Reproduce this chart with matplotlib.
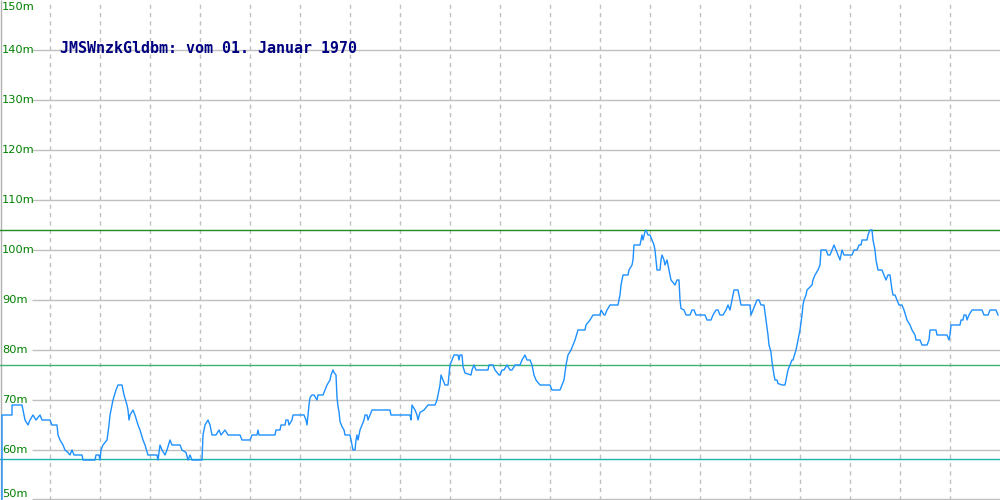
import matplotlib
matplotlib.use("Agg")
import matplotlib.pyplot as plt

# series (x = day index, value in m-units)
days = [2, 2, 12, 12, 22, 25, 28, 30, 33, 36, 40, 42, 50, 52, 57, 58, 60, 63, 65, 68,
        70, 72, 74, 78, 82, 83, 95, 96, 99, 100, 101, 103, 107, 109, 110, 113, 116, 118, 122, 124,
        127, 128, 129, 130, 133, 135, 138, 140, 143, 145, 148, 150, 157, 158, 160, 162, 165, 167, 170, 172,
        180, 182, 186, 188, 190, 192, 202, 203, 205, 208, 210, 212, 216, 219, 221, 225, 228, 240, 242, 250,
        252, 257, 258, 259, 275, 276, 280, 281, 285, 286, 288, 289, 292, 293, 304, 306, 307, 308, 309, 310,
        312, 314, 317, 318, 323, 325, 327, 330, 331, 333, 334, 336, 337, 338, 339, 340, 342, 344, 345, 350,
        351, 352, 353, 355, 356, 357, 358, 360, 362, 364, 365, 367, 368, 370, 372, 390, 391, 410, 411, 412,
        415, 417, 418, 420, 424, 428, 435, 437, 438, 440, 441, 443, 445, 448, 450, 452, 454, 458, 459, 460,
        462, 463, 465, 471, 472, 474, 476, 480, 488, 489, 493, 495, 499,
        500, 502, 504, 507, 510, 512, 515, 520, 522, 525, 527, 530, 532, 534, 536, 540, 550, 552, 560, 562,
        564, 566, 568, 571, 573, 575, 578, 585, 586, 590, 593, 600, 601, 604, 605, 607, 610, 618, 619, 620,
        621, 623, 628, 629, 632, 633, 634, 640, 641, 642, 643, 645, 646, 648, 650, 652, 654, 655, 656, 657,
        660, 661, 662, 664, 665, 667, 669, 670, 671, 675, 677, 679, 680, 681, 684, 686, 690, 692, 694, 696,
        705, 707, 711, 713, 716, 718, 720, 723, 726, 728, 730, 732, 734, 738, 740, 741, 743, 750,
        751, 753, 755, 757, 759, 761, 764, 766, 768, 769, 771, 772, 773, 774, 775, 777, 778, 782, 785, 786,
        788, 790, 792, 793, 796, 798, 800, 802, 803, 804, 806, 807, 812, 813, 815, 818, 820, 821, 826, 828,
        830, 832, 834, 836, 838, 840, 842, 844, 852, 854, 857, 859, 861, 862, 867, 868, 870, 872, 873, 875,
        876, 877, 878, 882, 884, 886, 888, 890, 892, 893, 895, 897, 899, 902, 904, 907, 910, 912, 915, 916,
        920, 922, 927, 929, 930, 936, 937, 947, 949, 950, 951, 960, 961, 963, 964, 966, 967, 969, 972, 982,
        984, 988, 990, 996, 998]
values = [50, 67, 67, 69, 69, 66, 65, 66, 67, 66, 67, 66, 66, 65, 65, 63, 62, 61, 60, 59.5,
          59, 60, 59, 59, 59, 58, 58, 59, 59, 58, 60, 61, 62, 65, 67, 70, 72, 73, 73, 71,
          69, 68, 66, 67, 68, 67, 65, 64, 62, 61, 59, 59, 59, 58, 61, 60, 59, 60, 62, 61,
          61, 60, 59.5, 58, 59, 58, 58, 63, 65, 66, 65, 63, 63, 64, 63, 64, 63, 63, 62, 62,
          63, 63, 64, 63, 63, 64, 64, 65, 65, 66, 66, 65, 66, 67, 67, 66, 65, 67, 69, 70.5,
          71, 71, 70, 71, 71, 72, 73, 74, 75, 76, 75.5, 75, 70.5, 68.7, 67.7, 65.7, 64.7, 64, 63, 63,
          62, 61, 60, 60, 62, 63, 62, 64, 65, 66, 67, 67, 66, 67, 68, 68, 67, 67, 66, 69,
          68, 67, 66, 67.5, 68, 69, 69, 70, 71, 73, 75, 74, 73, 73, 77, 78, 79, 79, 78, 79,
          79, 76.7, 75.4, 75, 76, 77, 76, 76, 76, 77, 77, 76, 75,
          75, 76, 76, 77, 76, 76, 77, 77, 78, 79, 78, 78, 77, 75, 74, 73, 73, 72, 72, 73,
          74, 77, 79, 80, 81, 82, 84, 84, 85, 86, 87, 87, 88, 87, 87, 88, 89, 89, 90, 91,
          93, 95, 95, 96, 97, 98, 101, 101, 102, 103, 102, 103.7, 104, 103, 103, 102, 101, 100, 98, 96,
          96, 98, 99, 98, 97, 98, 96, 95, 94, 93, 94, 94, 90, 88.3, 88, 87, 87, 88, 88, 87,
          87, 86, 86, 87, 88, 88, 87, 87, 88, 89, 88, 90, 92, 92, 90, 89, 89, 89,
          87, 88, 89, 90, 90, 89, 89, 86, 83, 81, 79.6, 77.6, 76.3, 75, 74, 74, 73.3, 73, 73, 74,
          76, 77, 78, 78, 80, 82, 84, 87, 89, 90, 91, 92, 93, 94, 95, 96, 97, 100, 100, 99,
          99, 100, 101, 100, 99, 98, 100, 99, 99, 100, 100, 101, 101, 102, 102, 103, 104, 104, 102, 100,
          98, 97, 96, 96, 95, 94, 95, 95, 92, 91, 91, 90, 89, 89, 88, 86, 85, 84, 83, 82,
          82, 81, 81, 82, 84, 84, 83, 83, 82, 83, 85, 85, 86, 86, 87, 87, 86, 87, 88, 88,
          87, 87, 88, 88, 87]

# reference levels
level_high = 104
level_mid = 77
level_low = 58.2
tick_values = [50, 60, 70, 80, 90, 100, 110, 120, 130, 140, 150]
title = "JMSWnzkGldbm: vom 01. Januar 1970"

fig = plt.figure(figsize=(10, 5), dpi=100)
ax = fig.add_axes([0, 0, 1, 1])
ax.set_xlim(0, 1000)
ax.set_ylim(50, 150)
ax.axis("off")

# grid
for v in tick_values[1:-1]:
    ax.hlines(v, 32, 1000, color="#c0c0c0", lw=1, zorder=1)
ax.hlines(50.15, 32, 1000, color="#c0c0c0", lw=1, zorder=1)
for x in range(50, 1000, 50):
    ax.vlines(x, 50, 150, color="#c0c0c0", lw=1, linestyles=(0, (3, 3)), zorder=1)
ax.vlines(0.5, 50, 150, color="#b0b0b0", lw=1, zorder=1)

# y labels
for v in tick_values:
    va = "center"
    yy = v
    if v == 150:
        va = "top"
        yy = v - 0.3
    elif v == 50:
        va = "bottom"
        yy = v + 0.2
    ax.text(2, yy, f"{v}m", color="#008000", fontsize=8.2, va=va, ha="left", zorder=3)

# reference lines
ax.axhline(level_high, color="#228b22", lw=1, zorder=2)
ax.axhline(level_mid, color="#3cb371", lw=1, zorder=2)
ax.axhline(level_low, color="#20b2aa", lw=1, zorder=2)

ax.plot(days, values, color="#1e90ff", lw=1, zorder=4)

ax.text(60, 140.3, title, color="#000080", fontsize=10.8, fontweight="bold",
        family="DejaVu Sans Mono", va="center", ha="left", zorder=3)

fig.savefig("out.png", dpi=100)
